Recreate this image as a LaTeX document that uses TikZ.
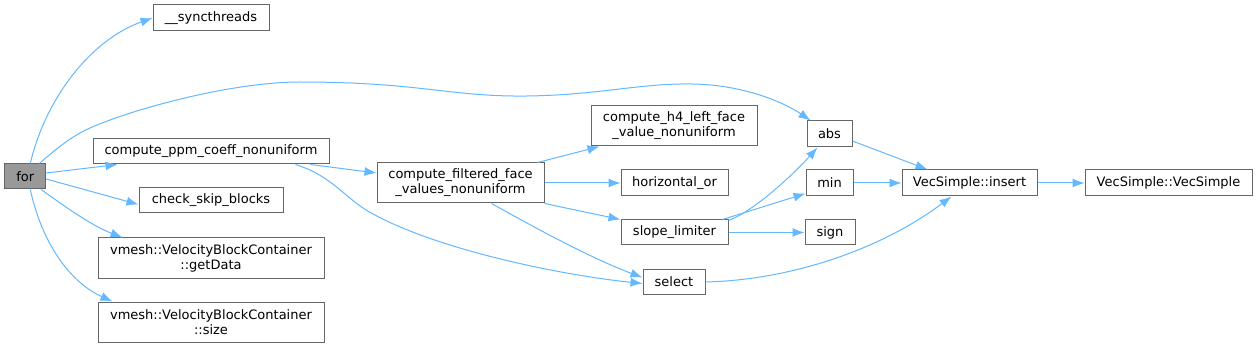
\documentclass[tikz,border=0pt]{standalone}
\usepackage{fontspec}
\setmainfont{DejaVu Sans}
\usetikzlibrary{arrows.meta}
\definecolor{edgeblue}{HTML}{63B8FF}
\definecolor{boxborder}{HTML}{666666}
\definecolor{boxgray}{HTML}{999999}
\begin{document}
\begin{tikzpicture}[x=1pt,y=-1pt,
  fn/.style={draw=boxborder,line width=1pt,fill=white,rectangle,inner sep=0pt,align=center,
    font=\fontsize{13}{15}\selectfont},
  call/.style={draw=edgeblue,line width=1pt,-{Latex[length=12pt,width=9pt]}}]
\useasboundingbox (0,0) rectangle (1257,347);
\fill[white] (0,0) rectangle (1257,347);
% nodes
\node[fn,fill=boxgray,minimum width=40.7pt,minimum height=25pt] (for) at (25.3,176.5) {for};
\node[fn,minimum width=116pt,minimum height=26pt] (sync) at (211,18) {\_\_syncthreads};
\node[fn,minimum width=236pt,minimum height=25pt] (ppm) at (211,151.5) {compute\_ppm\_coeff\_nonuniform};
\node[fn,minimum width=144pt,minimum height=25pt] (skip) at (211,200.5) {check\_skip\_blocks};
\node[fn,minimum width=226pt,minimum height=40pt] (getdata) at (211,258) {vmesh::VelocityBlockContainer\\::getData};
\node[fn,minimum width=226pt,minimum height=40pt] (size) at (211,322) {vmesh::VelocityBlockContainer\\::size};
\node[fn,minimum width=167pt,minimum height=40pt] (filt) at (460.5,183) {compute\_filtered\_face\\\_values\_nonuniform};
\node[fn,minimum width=166pt,minimum height=40pt] (h4) at (674,126) {compute\_h4\_left\_face\\\_value\_nonuniform};
\node[fn,minimum width=107pt,minimum height=26pt] (hor) at (674.5,183) {horizontal\_or};
\node[fn,minimum width=107pt,minimum height=25pt] (slope) at (674.5,232.5) {slope\_limiter};
\node[fn,minimum width=62pt,minimum height=25pt] (select) at (674,281.5) {select};
\node[fn,minimum width=45pt,minimum height=26pt] (abs) at (829.5,134) {abs};
\node[fn,minimum width=47pt,minimum height=26pt] (min) at (829.5,183) {min};
\node[fn,minimum width=50pt,minimum height=25pt] (sign) at (830,232.5) {sign};
\node[fn,minimum width=135pt,minimum height=26pt] (insert) at (969.5,183) {VecSimple::insert};
\node[fn,minimum width=167pt,minimum height=26pt] (vec) at (1168.5,183) {VecSimple::VecSimple};
% edges
\draw[call] ([xshift=5pt]for.north) .. controls (45,100) and (90,40) .. (sync.west);
\draw[call] ([xshift=14pt]for.north) .. controls (55,150) and (70,137) .. (90,128)
  .. controls (130,110) and (230,82) .. (300,82)
  .. controls (420,82) and (450,97) .. (527,96)
  .. controls (600,95) and (640,83) .. (693,84)
  .. controls (745,85) and (785,103) .. ([xshift=4pt]abs.north west);
\draw[call] ([yshift=3.5pt]for.east) -- ([xshift=25pt]ppm.south west);
\draw[call] ([yshift=-2.5pt]for.east) -- ([yshift=-4pt]skip.west);
\draw[call] ([xshift=-5pt]for.south east) .. controls (60,203) and (90,225) .. ([xshift=25pt]getdata.north west);
\draw[call] ([xshift=5pt]for.south) .. controls (40,235) and (65,280) .. ([xshift=15pt]size.north west);
\draw[call] ([xshift=-19pt]ppm.south east) -- ([yshift=10pt]filt.west);
\draw[call] ([xshift=-34pt]ppm.south east) .. controls (335,177) and (345,200) .. (375,215)
  .. controls (440,250) and (560,275) .. ([yshift=-2pt]select.west);
\draw[call] ([xshift=-7pt]filt.north east) -- ([xshift=9pt]h4.south west);
\draw[call] (filt.east) -- (hor.west);
\draw[call] (filt.south east) -- (slope.north west);
\draw[call] ([xshift=31pt]filt.south) .. controls (530,225) and (590,258) .. ([yshift=4pt]select.west);
\draw[call] ([yshift=-1pt]slope.north east) .. controls (752,212) and (790,178) .. ([xshift=-12pt]abs.south);
\draw[call] ([xshift=-6pt]slope.north east) -- ([yshift=3pt]min.south west);
\draw[call] (slope.east) -- (sign.west);
\draw[call] ([yshift=-0.5pt]select.east) .. controls (790,280) and (880,250) .. ([xshift=50pt]insert.south west);
\draw[call] ([yshift=-7pt]abs.east) -- ([xshift=26pt]insert.north west);
\draw[call] (min.east) -- (insert.west);
\draw[call] (insert.east) -- (vec.west);
\end{tikzpicture}
\end{document}
